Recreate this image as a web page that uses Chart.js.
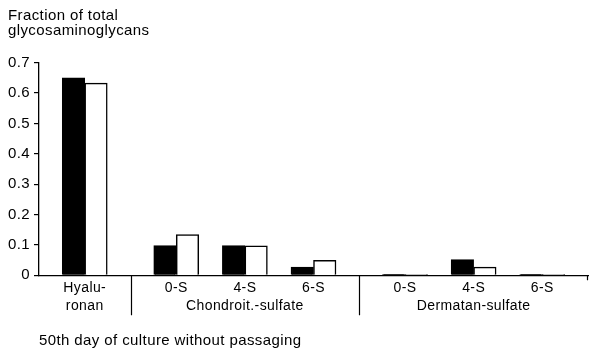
<!DOCTYPE html>
<html>
<head>
<meta charset="utf-8">
<script src="https://cdn.jsdelivr.net/npm/chart.js@4/dist/chart.umd.min.js"></script>
<style>
  html, body { margin: 0; padding: 0; background: #fff; }
  #wrap { width: 592px; height: 354px; }
</style>
</head>
<body>
<div id="wrap"><canvas id="chart"></canvas></div>
<script>
const categories = ['Hyalu-ronan', '0-S', '4-S', '6-S', '0-S', '4-S', '6-S'];
const groupOf = [0, 1, 1, 1, 2, 2, 2];
const groupLabels = ['', 'Chondroit.-sulfate', 'Dermatan-sulfate'];
const seriesA = [0.650, 0.098, 0.098, 0.027, 0.003, 0.052, 0.003]; // black bars
const seriesB = [0.633, 0.134, 0.097, 0.049, 0.003, 0.027, 0.003]; // white bars
const yTicks = [0, 0.1, 0.2, 0.3, 0.4, 0.5, 0.6, 0.7];
const titleLines = ['Fraction of total', 'glycosaminoglycans'];
const footnote = '50th day of culture without passaging';

// groups are pushed apart a little, like in the figure
const xPos = categories.map((c, i) => i + groupOf[i] / 3);
const separators = [(xPos[0] + xPos[1]) / 2, (xPos[3] + xPos[4]) / 2];

const tickLabels = categories.map((c, i) => {
  if (c === 'Hyalu-ronan') return ['Hyalu-', 'ronan'];
  const members = xPos.filter((p, j) => groupOf[j] === groupOf[i]);
  const mid = members[Math.floor(members.length / 2)];
  return [c, xPos[i] === mid ? groupLabels[groupOf[i]] : ''];
});

Chart.defaults.font.family = '"Liberation Sans", Arial, sans-serif';
Chart.defaults.color = '#000';

// the scanned lettering is a bit wider spaced than Arial
const wideText = {
  id: 'wideText',
  beforeDraw(chart) { chart.ctx.letterSpacing = '0.4px'; }
};

const separatorLines = {
  id: 'separatorLines',
  afterDraw(chart) {
    const x = chart.scales.x, ctx = chart.ctx, bottom = chart.chartArea.bottom;
    ctx.save();
    ctx.strokeStyle = '#000';
    ctx.lineWidth = 1.2;
    ctx.beginPath();
    separators.forEach(s => {
      const px = Math.round(x.getPixelForValue(s)) + 0.5;
      ctx.moveTo(px, bottom);
      ctx.lineTo(px, bottom + 40);
    });
    const end = Math.round(x.getPixelForValue(x.max)) - 0.5;
    ctx.moveTo(end, bottom);
    ctx.lineTo(end, bottom + 5);
    ctx.stroke();
    ctx.restore();
  }
};

const data = {
  datasets: [{
      label: 'A',
      data: xPos.map((x, i) => ({ x: x, y: seriesA[i] })),
      backgroundColor: '#000',
      borderColor: '#000',
      borderWidth: 1.5,
      barThickness: 22.5,
    },
    {
      label: 'B',
      data: xPos.map((x, i) => ({ x: x, y: seriesB[i] })),
      backgroundColor: '#fff',
      borderColor: '#000',
      borderWidth: 1.5,
      barThickness: 22.5,
    }
  ]
};

const config = {
  type: 'bar',
  data: data,
  options: {
    responsive: true,
    maintainAspectRatio: false,
    animation: false,
    layout: { padding: { top: 8, left: 8, right: 4, bottom: 5 } },
    plugins: {
      legend: { display: false },
      tooltip: { enabled: false },
      title: {
        display: true,
        align: 'start',
        text: titleLines,
        font: { size: 15, weight: 'normal', lineHeight: '15px' },
        color: '#000',
        padding: { top: 0, bottom: 24.7 }
      }
    },
    scales: {
      x: {
        type: 'linear',
        offset: false,
        min: xPos[0] - 2 / 3,
        max: xPos[xPos.length - 1] + 2 / 3,
        afterBuildTicks: s => { s.ticks = xPos.map(v => ({ value: v })); },
        grid: { display: false, drawTicks: false, offset: false },
        border: { display: true, color: '#000', width: 1.3 },
        ticks: {
          autoSkip: false,
          maxRotation: 0,
          padding: 4,
          font: { size: 14, lineHeight: '18px' },
          callback: (v, i) => tickLabels[i]
        },
        title: {
          display: true,
          align: 'start',
          text: footnote,
          font: { size: 15, lineHeight: '16px' },
          padding: { top: 13.7, bottom: 0 }
        }
      },
      y: {
        min: 0,
        max: 0.7,
        afterBuildTicks: s => { s.ticks = yTicks.map(v => ({ value: v })); },
        afterFit: s => { s.width = 31; },
        grid: { drawOnChartArea: false, drawTicks: true, tickLength: 5, color: '#000', lineWidth: 1.2 },
        border: { display: true, color: '#000', width: 1.3 },
        ticks: {
          padding: 4,
          font: { size: 15 },
          callback: v => String(Math.round(v * 10) / 10)
        }
      }
    }
  },
  plugins: [wideText, separatorLines]
};

var chart = new Chart(document.getElementById('chart'), config);
</script>
</body>
</html>
